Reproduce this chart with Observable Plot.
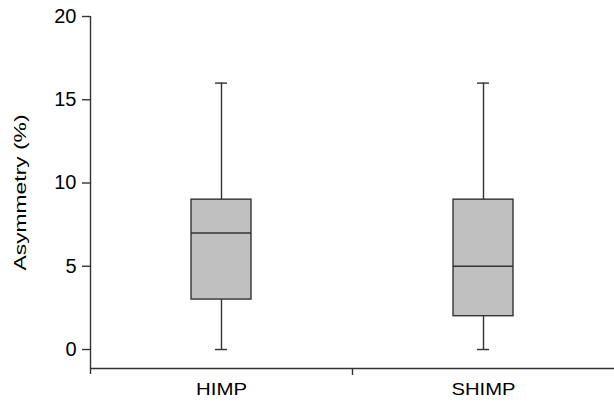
<!DOCTYPE html>
<html>
<head>
<meta charset="utf-8">
<script src="https://cdn.jsdelivr.net/npm/d3@7"></script>
<script src="https://cdn.jsdelivr.net/npm/@observablehq/plot@0.6"></script>
<style>
  html, body { margin: 0; padding: 0; background: #fff; }
  #chart svg { display: block; font-family: "Liberation Sans", Arial, sans-serif; }
</style>
</head>
<body>
<div id="chart"></div>
<script>
const groups = ["HIMP", "SHIMP"];
const mins = [0, 0];
const q1s = [3, 2];
const medians = [7, 5];
const q3s = [9, 9];
const maxs = [16, 16];
const yTicks = [0, 5, 10, 15, 20];
const yTitle = "Asymmetry (%)";

const data = groups.map((g, i) => ({
  group: g, i, min: mins[i], q1: q1s[i], median: medians[i], q3: q3s[i], max: maxs[i]
}));

const stroke = "#333";
const sw = 1.4;
const yMin = -1.14;

const plot = Plot.plot({
  width: 614,
  height: 405,
  marginLeft: 90,
  marginRight: 0,
  marginTop: 16,
  marginBottom: 37,
  style: { fontFamily: "Liberation Sans, Arial, sans-serif", background: "#fff", color: "#000" },
  x: { type: "linear", domain: [0, groups.length] },
  y: { domain: [yMin, 20] },
  marks: [
    Plot.ruleX(data, { x: d => d.i + 0.5, y1: "min", y2: "max", stroke, strokeWidth: sw }),
    Plot.ruleY(data, { y: "min", x1: d => d.i, x2: d => d.i + 1, insetLeft: 125, insetRight: 125, stroke, strokeWidth: sw }),
    Plot.ruleY(data, { y: "max", x1: d => d.i, x2: d => d.i + 1, insetLeft: 125, insetRight: 125, stroke, strokeWidth: sw }),
    Plot.rect(data, { x1: d => d.i, x2: d => d.i + 1, y1: "q1", y2: "q3", insetLeft: 101, insetRight: 101, fill: "#c0c0c0", stroke, strokeWidth: sw }),
    Plot.ruleY(data, { y: "median", x1: d => d.i, x2: d => d.i + 1, insetLeft: 101, insetRight: 101, stroke, strokeWidth: sw }),
    Plot.ruleX([0], { x: d => d, y1: 20, y2: yMin, insetBottom: -6, stroke, strokeWidth: sw }),
    Plot.ruleY([yMin], { stroke, strokeWidth: sw }),
    Plot.axisY({ ticks: yTicks, tickSize: 8, tickPadding: 6, fontSize: 20, label: null, stroke, strokeWidth: sw, color: "#000", className: "ylab" }),
    Plot.axisX({ ticks: [1], tickSize: 7, tickFormat: () => "", label: null, stroke, strokeWidth: sw }),
    Plot.axisX({ ticks: groups.map((g, i) => i + 0.5), tickSize: 0, tickPadding: 14, fontSize: 17, tickFormat: v => groups[Math.floor(v)], label: null, className: "xlab" }),
    Plot.text([yTitle], { frameAnchor: "left", textAnchor: "middle", lineAnchor: "middle", dx: -70, rotate: -90, text: d => d, fontSize: 17, fill: "#000", className: "ytitle" })
  ]
});

document.getElementById("chart").appendChild(plot);
d3.select(plot).selectAll(".ytitle text").attr("textLength", 156).attr("lengthAdjust", "spacingAndGlyphs");
d3.select(plot).selectAll(".xlab text").each(function() {
  const t = this.textContent;
  d3.select(this).attr("textLength", t === "HIMP" ? 51 : 64).attr("lengthAdjust", "spacingAndGlyphs");
});
</script>
</body>
</html>
